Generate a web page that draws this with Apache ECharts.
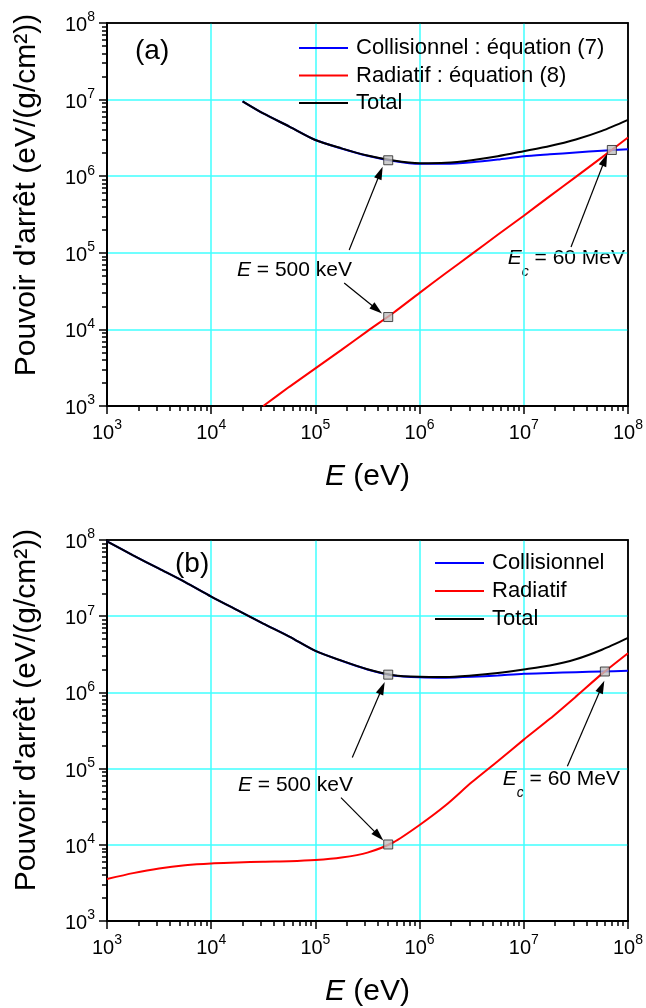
<!DOCTYPE html>
<html><head><meta charset="utf-8">
<script src="https://cdn.jsdelivr.net/npm/echarts@6/dist/echarts.min.js"></script>
<style>html,body{margin:0;padding:0;background:#fff}#c{width:646px;height:1008px}</style>
</head><body><div id="c"></div>
<script>
// ---------- Panel (a) data ----------
const E_A    = [2e4, 3.16e4, 5.62e4, 1e5, 1.78e5, 3.16e5, 5.62e5, 1e6, 1.78e6, 3.16e6, 5.62e6, 1e7, 1.78e7, 3.16e7, 5.62e7, 1e8];
const COLL_A = [9.5e6, 6.6e6, 4.45e6, 2.97e6, 2.3e6, 1.85e6, 1.58e6, 1.45e6, 1.45e6, 1.52e6, 1.65e6, 1.82e6, 1.93e6, 2.04e6, 2.15e6, 2.25e6];
const TOT_A  = [9.5e6, 6.6e6, 4.45e6, 2.97e6, 2.31e6, 1.86e6, 1.6e6, 1.48e6, 1.5e6, 1.62e6, 1.82e6, 2.12e6, 2.48e6, 3.02e6, 3.91e6, 5.45e6];
const E_RA   = [3.16e4, 5.62e4, 1e5, 1.78e5, 3.16e5, 5.62e5, 1e6, 1.78e6, 3.16e6, 5.62e6, 1e7, 1.78e7, 3.16e7, 5.62e7, 1e8];
const RAD_A  = [1.0e3, 1.78e3, 3.1e3, 5.4e3, 9.5e3, 1.65e4, 3.0e4, 5.4e4, 9.6e4, 1.72e5, 3.05e5, 5.5e5, 9.8e5, 1.76e6, 3.2e6];
const MARK_A = [[5e5, 1.615e6], [5e5, 1.45e4], [7e7, 2.2e6]];
const ARROW_A = [[[2.11e5, 1.09e5], [4.19e5, 1.11e6]], [[1.89e5, 4.04e4], [3.9e5, 1.82e4]], [[2.84e7, 1.19e5], [6.0e7, 1.64e6]]];
const NAMES_A = ['Collisionnel : équation (7)', 'Radiatif : équation (8)', 'Total'];

// ---------- Panel (b) data ----------
const E_B    = [1e3, 1.78e3, 3.16e3, 5.62e3, 1e4, 1.78e4, 3.16e4, 5.62e4, 1e5, 1.78e5, 3.16e5, 5.62e5, 1e6, 1.78e6, 3.16e6, 5.62e6, 1e7, 1.78e7, 3.16e7, 5.62e7, 1e8];
const COLL_B = [9.6e7, 6.3e7, 4.2e7, 2.8e7, 1.81e7, 1.2e7, 8.0e6, 5.4e6, 3.5e6, 2.6e6, 2.0e6, 1.67e6, 1.58e6, 1.56e6, 1.6e6, 1.67e6, 1.76e6, 1.8e6, 1.84e6, 1.88e6, 1.92e6];
const RAD_B  = [3.56e3, 4.25e3, 4.9e3, 5.4e3, 5.7e3, 5.85e3, 6.0e3, 6.08e3, 6.3e3, 6.8e3, 7.9e3, 1.08e4, 1.82e4, 3.3e4, 6.6e4, 1.25e5, 2.4e5, 4.5e5, 8.8e5, 1.75e6, 3.27e6];
const TOT_B  = [9.6e7, 6.3e7, 4.2e7, 2.8e7, 1.81e7, 1.2e7, 8.0e6, 5.41e6, 3.51e6, 2.61e6, 2.01e6, 1.68e6, 1.6e6, 1.59e6, 1.67e6, 1.8e6, 2.0e6, 2.25e6, 2.72e6, 3.63e6, 5.19e6];
const MARK_B = [[5e5, 1.71e6], [5e5, 1.01e4], [6e7, 1.88e6]];
const ARROW_B = [[[2.26e5, 1.4e5], [4.37e5, 1.14e6]], [[1.76e5, 4.16e4], [4.06e5, 1.31e4]], [[2.62e7, 1.07e5], [5.6e7, 1.19e6]]];
const NAMES_B = ['Collisionnel', 'Radiatif', 'Total'];

// ---------- axes ----------
const X_MIN = 1e3, X_MAX = 1e8, Y_MIN = 1e3, Y_MAX = 1e8;
const DECADES = [1e3, 1e4, 1e5, 1e6, 1e7];
const MINOR_MULT = [2, 3, 4, 5, 6, 7, 8, 9];
const COLORS = ['#0000ff', '#ff0000', '#000000'];

const FONT = "'Liberation Sans', Arial, Helvetica, sans-serif";
const chart = echarts.init(document.getElementById('c'), null, {renderer: 'canvas'});

function pairs(xs, ys) { return xs.map((x, i) => [x, ys[i]]); }
const minorVals = [];
DECADES.forEach(d => MINOR_MULT.forEach(m => minorVals.push(m * d)));

const labelRich = {
  b: {fontSize: 20, lineHeight: 25, fontFamily: FONT, color: '#000', verticalAlign: 'bottom'},
  s: {fontSize: 14, lineHeight: 14, fontFamily: FONT, color: '#000', verticalAlign: 'top'}
};
function supFmt(v) { const n = Math.round(Math.log10(v)); return '{b|10}{s|' + n + '}'; }

const GRIDS = [
  {left: 107, top: 23, width: 522, height: 383, show: true, borderColor: '#000', borderWidth: 1.5, backgroundColor: 'transparent'},
  {left: 107, top: 540, width: 522, height: 382, show: true, borderColor: '#000', borderWidth: 1.5, backgroundColor: 'transparent'}
];

function mainX(gi) {
  return {
    type: 'log', logBase: 10, gridIndex: gi, position: 'bottom', min: X_MIN, max: X_MAX, splitNumber: 5,
    axisLine: {show: true, onZero: false, lineStyle: {color: '#000', width: 2}},
    axisTick: {show: true, length: 8, lineStyle: {color: '#000', width: 1.5}},
    splitLine: {show: true, showMinLine: false, showMaxLine: false, lineStyle: {color: '#40ffff', width: 1.5}},
    axisLabel: {margin: 12, formatter: supFmt, rich: labelRich},
    name: '{i|E}{n| (eV)}', nameLocation: 'middle', nameGap: 56,
    nameTextStyle: {rich: {
      i: {fontSize: 30, fontFamily: FONT, fontStyle: 'italic', color: '#000'},
      n: {fontSize: 30, fontFamily: FONT, color: '#000'}
    }}
  };
}
function mainY(gi) {
  return {
    type: 'log', logBase: 10, gridIndex: gi, position: 'left', min: Y_MIN, max: Y_MAX, splitNumber: 5,
    axisLine: {show: true, onZero: false, lineStyle: {color: '#000', width: 2}},
    axisTick: {show: true, length: 8, lineStyle: {color: '#000', width: 1.5}},
    splitLine: {show: true, showMinLine: false, showMaxLine: false, lineStyle: {color: '#40ffff', width: 1.5}},
    axisLabel: {margin: 12, formatter: supFmt, rich: labelRich}
  };
}
function frameAxis(gi, pos, isX) {
  return {
    type: 'log', logBase: 10, gridIndex: gi, position: pos,
    min: isX ? X_MIN : Y_MIN, max: isX ? X_MAX : Y_MAX,
    axisLine: {show: true, onZero: false, lineStyle: {color: '#000', width: 1.5}},
    axisTick: {show: false}, axisLabel: {show: false}, splitLine: {show: false}
  };
}
// extra axes that only carry the log minor ticks (2..9 x 10^n)
function minorAxis(gi, pos, isX) {
  return {
    type: 'log', logBase: 10, gridIndex: gi, position: pos, offset: 0,
    min: isX ? X_MIN : Y_MIN, max: isX ? X_MAX : Y_MAX,
    axisLine: {show: false, onZero: false},
    axisTick: {show: true, length: 5, customValues: minorVals, lineStyle: {color: '#000', width: 1.5}},
    axisLabel: {show: false}, splitLine: {show: false}
  };
}

function lineSeries(gi, name, data, color, z) {
  return {
    type: 'line', name: name, xAxisIndex: gi, yAxisIndex: gi, data: data,
    showSymbol: false, smooth: 0.25, color: color, z: z,
    lineStyle: {color: color, width: 2}, emphasis: {disabled: true}
  };
}

function markerSeries(gi, marks, arrows) {
  return {
    type: 'scatter', xAxisIndex: gi, yAxisIndex: gi, data: marks, z: 8,
    symbol: 'rect', symbolSize: 9,
    itemStyle: {color: '#c0c0c0', borderColor: '#222', borderWidth: 1},
    emphasis: {disabled: true},
    markLine: {
      silent: true, animation: false,
      symbol: ['none', 'triangle'],
      label: {show: false},
      emphasis: {disabled: true},
      lineStyle: {color: '#000', width: 1.2, type: 'solid'},
      data: arrows.map(a => [{coord: a[0], symbol: 'none'}, {coord: a[1], symbol: 'triangle', symbolSize: [8, 13]}])
    }
  };
}

function legendCfg(left, top, names, gap) {
  return {
    orient: 'vertical', left: left, top: top, padding: 0, itemWidth: 49, itemHeight: 2, itemGap: gap,
    icon: 'rect', selectedMode: false, data: names,
    textStyle: {fontSize: 22, lineHeight: 22, fontFamily: FONT, color: '#000', padding: [0, 0, 0, 3]}
  };
}

function yTitle(x, y) {
  return {type: 'text', x: x, y: y, rotation: Math.PI / 2,
    style: {text: "Pouvoir d'arrêt (eV/(g/cm²))", fontSize: 30, fontFamily: FONT, fill: '#000', align: 'center', verticalAlign: 'middle'}};
}
const annRich = {
  i: {fontSize: 21, fontFamily: FONT, fontStyle: 'italic', fill: '#000', lineHeight: 24, verticalAlign: 'top'},
  n: {fontSize: 21, fontFamily: FONT, fill: '#000', lineHeight: 24, verticalAlign: 'top'},
  c: {fontSize: 14, fontFamily: FONT, fontStyle: 'italic', fill: '#000', lineHeight: 31, verticalAlign: 'bottom'}
};
function annText(x, y, txt) {
  return {type: 'text', x: x, y: y,
    style: {text: txt, rich: annRich, fontSize: 21, fontFamily: FONT, fill: '#000', align: 'left', verticalAlign: 'top'}};
}
function panelTag(x, y, txt) {
  return {type: 'text', x: x, y: y,
    style: {text: txt, fontSize: 28, fontFamily: FONT, fill: '#000', align: 'left', verticalAlign: 'middle'}};
}

const option = {
  animation: false,
  backgroundColor: '#fff',
  textStyle: {fontFamily: FONT},
  grid: GRIDS,
  xAxis: [mainX(0), mainX(1), frameAxis(0, 'top', true), frameAxis(1, 'top', true),
          minorAxis(0, 'bottom', true), minorAxis(1, 'bottom', true)],
  yAxis: [mainY(0), mainY(1), frameAxis(0, 'right', false), frameAxis(1, 'right', false),
          minorAxis(0, 'left', false), minorAxis(1, 'left', false)],
  legend: [legendCfg(299, 37, NAMES_A, 5.5), legendCfg(435, 552, NAMES_B, 6)],
  series: [
    lineSeries(0, NAMES_A[0], pairs(E_A, COLL_A), COLORS[0], 3),
    lineSeries(0, NAMES_A[1], pairs(E_RA, RAD_A), COLORS[1], 4),
    lineSeries(0, NAMES_A[2], pairs(E_A, TOT_A), COLORS[2], 5),
    markerSeries(0, MARK_A, ARROW_A),
    lineSeries(1, NAMES_B[0], pairs(E_B, COLL_B), COLORS[0], 3),
    lineSeries(1, NAMES_B[1], pairs(E_B, RAD_B), COLORS[1], 4),
    lineSeries(1, NAMES_B[2], pairs(E_B, TOT_B), COLORS[2], 5),
    markerSeries(1, MARK_B, ARROW_B)
  ],
  graphic: {elements: [
    yTitle(27, 195), yTitle(27, 710),
    panelTag(135, 51.5, '(a)'), panelTag(175, 564, '(b)'),
    annText(237, 260, '{i|E}{n| = 500 keV}'),
    annText(507.7, 248, '{i|E}{c|c}{n| = 60 MeV}'),
    annText(238, 775, '{i|E}{n| = 500 keV}'),
    annText(502.7, 769, '{i|E}{c|c}{n| = 60 MeV}')
  ]}
};
chart.setOption(option);
</script></body></html>
